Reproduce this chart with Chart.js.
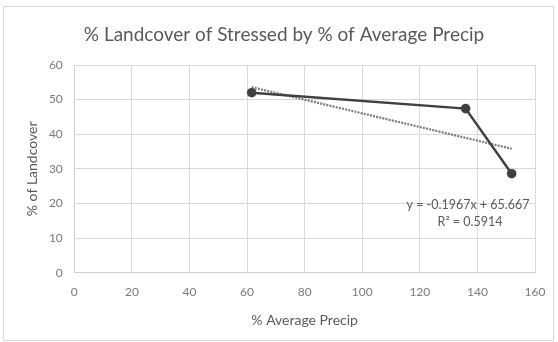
<!DOCTYPE html>
<html>
<head>
<meta charset="utf-8">
<script src="https://cdn.jsdelivr.net/npm/chart.js@4.4.1/dist/chart.umd.min.js"></script>
<style>
  html, body { margin: 0; padding: 0; background: #ffffff; }
  #wrap { width: 558px; height: 342px; position: relative; }
</style>
</head>
<body>
<div id="wrap"><canvas id="chartLandcover" width="558" height="342"></canvas></div>
<script>
// Datos
const precipPct = [61.6, 135.9, 151.9];
const landcoverPct = [52.0, 47.4, 28.6];
// Linea de tendencia (extremos)
const trendX = [61.6, 151.9];
const trendY = [53.6, 35.8];
const trendLabel = ['y = -0.1967x + 65.667', 'R\u00b2 = 0.5914'];
const chartTitle = '% Landcover of Stressed by % of Average Precip';
const xTicks = [0, 20, 40, 60, 80, 100, 120, 140, 160];
const yTicks = [0, 10, 20, 30, 40, 50, 60];

const fontFam = 'Lato, "Open Sans", sans-serif';

function toPoints(xs, ys) {
  return xs.map((x, i) => ({ x: x, y: ys[i] }));
}

// Marco exterior, titulo y texto de la ecuacion
const extras = {
  id: 'extras',
  beforeDraw(chart) {
    const ctx = chart.ctx;
    ctx.save();
    ctx.fillStyle = '#ffffff';
    ctx.fillRect(0, 0, chart.width, chart.height);
    ctx.strokeStyle = '#d9d9d9';
    ctx.lineWidth = 1;
    ctx.strokeRect(3.5, 6.5, 550, 334);

    ctx.fillStyle = '#595959';
    ctx.font = '19px ' + fontFam;
    ctx.textAlign = 'center';
    ctx.textBaseline = 'middle';
    ctx.fillText(chartTitle, 284, 35);
    ctx.restore();
  },
  afterDatasetsDraw(chart) {
    const ctx = chart.ctx;
    ctx.save();
    ctx.fillStyle = '#595959';
    ctx.font = '12.5px ' + fontFam;
    ctx.textAlign = 'center';
    ctx.textBaseline = 'middle';
    ctx.fillText(trendLabel[0], 468, 205);
    ctx.fillText(trendLabel[1], 470, 222);
    ctx.restore();
  }
};

const ctx = document.getElementById('chartLandcover');

new Chart(ctx, {
  type: 'scatter',
  data: {
    datasets: [
      {
        label: 'Stressed',
        data: toPoints(precipPct, landcoverPct),
        showLine: true,
        borderColor: '#404040',
        backgroundColor: '#404040',
        borderWidth: 2.5,
        pointRadius: 4.8,
        pointBorderWidth: 0,
        order: 1
      },
      {
        label: 'Trend',
        data: toPoints(trendX, trendY),
        showLine: true,
        borderColor: '#7a7a7a',
        borderWidth: 2.2,
        borderDash: [2, 1.2],
        pointRadius: 0,
        order: 2
      }
    ]
  },
  options: {
    responsive: false,
    animation: false,
    devicePixelRatio: 1,
    layout: { padding: { left: 0, right: 23, top: 65, bottom: 0 } },
    plugins: {
      legend: { display: false },
      tooltip: { enabled: false },
      title: { display: false }
    },
    scales: {
      x: {
        type: 'linear',
        min: xTicks[0],
        max: xTicks[xTicks.length - 1],
        afterBuildTicks: (axis) => { axis.ticks = xTicks.map(v => ({ value: v })); },
        afterFit: (axis) => { axis.height = 69.3; },
        grid: { color: '#d9d9d9', drawTicks: false },
        border: { color: '#d0d0d0' },
        ticks: { color: '#7a7a7a', padding: 12, maxRotation: 0, font: { family: fontFam, size: 12 } },
        title: {
          display: true,
          text: '% Average Precip',
          color: '#595959',
          font: { family: fontFam, size: 14 },
          padding: { top: 0, bottom: 13 }
        }
      },
      y: {
        type: 'linear',
        min: yTicks[0],
        max: yTicks[yTicks.length - 1],
        afterBuildTicks: (axis) => { axis.ticks = yTicks.map(v => ({ value: v })); },
        afterFit: (axis) => { axis.width = 74.3; },
        grid: { color: '#d9d9d9', drawTicks: false },
        border: { color: '#d0d0d0' },
        ticks: { color: '#7a7a7a', padding: 11.5, font: { family: fontFam, size: 12 } },
        title: {
          display: true,
          text: '% of Landcover',
          color: '#595959',
          font: { family: fontFam, size: 14 },
          padding: { top: 24, bottom: 0 }
        }
      }
    }
  },
  plugins: [extras]
});
</script>
</body>
</html>
